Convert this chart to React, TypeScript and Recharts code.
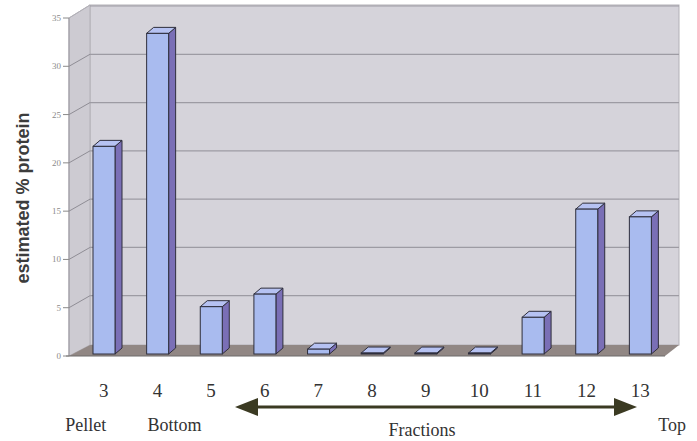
import { BarChart, Bar, XAxis, YAxis, CartesianGrid } from "recharts"

const fractions = ["3", "4", "5", "6", "7", "8", "9", "10", "11", "12", "13"]
const protein = [21.5, 33.2, 4.9, 6.2, 0.5, 0.1, 0.1, 0.1, 3.8, 15.0, 14.2]
const yTicks = [0, 5, 10, 15, 20, 25, 30, 35]
const subLabels = ["Pellet", "Bottom", "", "", "", "", "", "", "", "", "Top"]

const data = fractions.map((f, i) => ({ fraction: f, protein: protein[i], sub: subLabels[i] }))

const W = 697
const H = 441
const PLOT_LEFT = 77
const PLOT_RIGHT = 667
const PLOT_TOP = 16
const PLOT_BOTTOM = 354
const SERIF = "'Liberation Serif', 'DejaVu Serif', serif"

// sub label nudges (Pellet / Bottom / Top sit off the number)
const subOffset = [-18, 17, 0, 0, 0, 0, 0, 0, 0, 0, 32]

function Walls() {
  const fl = PLOT_LEFT - 8
  const fr = PLOT_RIGHT - 2
  const bl = PLOT_LEFT + 13
  const br = PLOT_RIGHT + 12
  const fTop = PLOT_TOP + 2
  const fBot = PLOT_BOTTOM + 2
  const bTop = PLOT_TOP - 11
  const bBot = PLOT_BOTTOM - 9
  return (
    <svg width={W} height={H} style={{ position: "absolute", left: 0, top: 0 }}>
      <rect x={bl} y={bTop} width={br - bl} height={bBot - bTop} fill="#d5d3da" stroke="#b3b1b8" />
      <polygon points={`${fl},${fTop} ${bl},${bTop} ${bl},${bBot} ${fl},${fBot}`} fill="#cdcbd2" stroke="#b3b1b8" />
      <polygon points={`${fl},${fBot} ${fr},${fBot} ${br},${bBot} ${bl},${bBot}`} fill="#918784" />
      <line x1={fl} y1={fTop} x2={fl} y2={fBot} stroke="#9a98a0" />
      <line x1={fl - 3} y1={fBot} x2={fr} y2={fBot} stroke="#6d6a6a" />
      {/* arrow + axis caption */}
      <polygon points="235,407 258,398 258,416" fill="#3b3a22" />
      <polygon points="637,407 614,398 614,416" fill="#3b3a22" />
      <line x1={255} y1={407} x2={617} y2={407} stroke="#3b3a22" strokeWidth={3} />
      <text x={422} y={436} textAnchor="middle" fontFamily={SERIF} fontSize={18} fill="#333">
        Fractions
      </text>
      <text
        transform="translate(29,198) rotate(-90)"
        textAnchor="middle"
        fontFamily="'Liberation Sans', Arial, sans-serif"
        fontWeight="bold"
        fontSize={18}
        fill="#3c3c3c"
      >
        estimated % protein
      </text>
    </svg>
  )
}

function Bar3D(props: any) {
  const { x, y, width, height } = props
  const dx = 7
  const dy = 6
  const stroke = "#2e2e3c"
  return (
    <g>
      <polygon
        points={`${x + width},${y} ${x + width + dx},${y - dy} ${x + width + dx},${y + height - dy} ${x + width},${y + height}`}
        fill="#7a6fb6"
        stroke={stroke}
        strokeWidth={1}
      />
      <polygon
        points={`${x},${y} ${x + dx},${y - dy} ${x + width + dx},${y - dy} ${x + width},${y}`}
        fill="#b6c2f2"
        stroke={stroke}
        strokeWidth={1}
      />
      <rect x={x} y={y} width={width} height={Math.max(height, 0.5)} fill="#a9bbef" stroke={stroke} strokeWidth={1} />
    </g>
  )
}

function YTick(props: any) {
  const { y, payload } = props
  return (
    <g>
      <text x={61} y={y + 5} textAnchor="end" fontFamily={SERIF} fontSize={9} fill="#8a8a8a">
        {payload.value}
      </text>
      <line x1={63} y1={y + 2} x2={69} y2={y + 2} stroke="#8a8a8a" />
      {payload.value > 0 && payload.value < 35 && (
        <line x1={69} y1={y + 2} x2={PLOT_LEFT + 13} y2={y - 10} stroke="#8f8d95" />
      )}
      {payload.value === 35 && <line x1={69} y1={y + 2} x2={PLOT_LEFT + 13} y2={y - 11} stroke="#b3b1b8" />}
    </g>
  )
}

function XTick(props: any) {
  const { x, y, payload, index } = props
  const sub = subLabels[index]
  return (
    <g>
      <text x={x} y={y + 35} textAnchor="middle" fontFamily={SERIF} fontSize={19} fill="#333">
        {payload.value}
      </text>
      {sub && (
        <text x={x + subOffset[index]} y={y + 69} textAnchor="middle" fontFamily={SERIF} fontSize={18} fill="#333">
          {sub}
        </text>
      )}
    </g>
  )
}

function BackGridLine(props: any) {
  const { y1, index } = props
  if (index === 0) return <g />
  return (
    <line
      key={`g-${index}`}
      x1={PLOT_LEFT + 13}
      y1={y1 - 10}
      x2={PLOT_RIGHT + 12}
      y2={y1 - 10}
      stroke="#9d9ba3"
      strokeWidth={1.2}
    />
  )
}

export default function App() {
  return (
    <div style={{ position: "fixed", left: 0, top: 0, width: W, height: H, background: "#fff" }}>
      <Walls />
      <div style={{ position: "absolute", left: 0, top: 0 }}>
        <BarChart
          width={W}
          height={H}
          data={data}
          margin={{ top: PLOT_TOP, right: W - PLOT_RIGHT, bottom: 0, left: 0 }}
          barCategoryGap={0}
        >
          <CartesianGrid vertical={false} horizontal={BackGridLine} />
          <XAxis
            dataKey="fraction"
            height={H - PLOT_BOTTOM}
            axisLine={false}
            tickLine={false}
            interval={0}
            tick={XTick}
          />
          <YAxis
            width={PLOT_LEFT}
            domain={[0, 35]}
            ticks={yTicks}
            axisLine={false}
            tickLine={false}
            tick={YTick}
          />
          <Bar dataKey="protein" barSize={22} shape={Bar3D} isAnimationActive={false} />
        </BarChart>
      </div>
    </div>
  )
}
